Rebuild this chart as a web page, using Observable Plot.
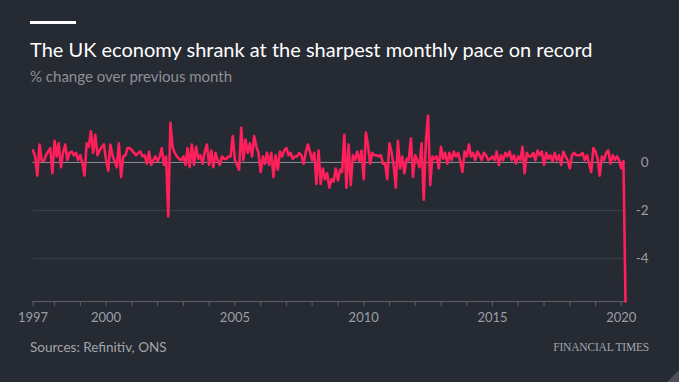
<!DOCTYPE html>
<html>
<head>
<meta charset="utf-8">
<script src="https://cdn.jsdelivr.net/npm/d3@7"></script>
<script src="https://cdn.jsdelivr.net/npm/@observablehq/plot@0.6"></script>
<style>
  html, body { margin: 0; padding: 0; background: #262a33; }
  #wrap { position: relative; width: 679px; height: 382px; background: #262a33; overflow: hidden; font-family: Lato, "Noto Sans", sans-serif; }
  #bar { position: absolute; left: 30px; top: 21px; width: 46px; height: 3px; background: #ffffff; }
  #title { position: absolute; left: 30px; top: 37px; font-size: 20px; color: #ffffff; white-space: nowrap; }
  #subtitle { position: absolute; left: 30px; top: 67px; font-size: 15px; color: #8e9096; white-space: nowrap; }
  #chart { position: absolute; left: 0; top: 90px; }
  #source { position: absolute; left: 30px; top: 339px; font-size: 13.5px; color: #a3a5aa; white-space: nowrap; }
  #ft { position: absolute; right: 30px; top: 341px; font-family: "Liberation Serif", "DejaVu Serif", serif; font-size: 11.5px; color: #a3a5aa; letter-spacing: -0.2px; white-space: nowrap; }
  #corner { position: absolute; right: 0; bottom: 0; }
</style>
</head>
<body>
<div id="wrap">
  <div id="bar"></div>
  <div id="title">The UK economy shrank at the sharpest monthly pace on record</div>
  <div id="subtitle">% change over previous month</div>
  <div id="chart"></div>
  <div id="source">Sources: Refinitiv, ONS</div>
  <div id="ft">FINANCIAL TIMES</div>
  <svg id="corner" width="12" height="12"><path d="M12,0 L12,12 L0,12 Z" fill="#4a4e57"/></svg>
</div>
<script>
// Monthly % change in UK GDP, starting March 1997, ending March 2020
const startMonth = "1997-03-01";
const values = [
  0.5, 0.25, -0.55, 0.75, 0.1, 0.05, 0.3, 0.45, 0.6, -0.45,
  0.9, 0.25, 0.8, -0.2, 0.4, 0.75, 0.1, 0.4, 0.45, 0.3,
  0.4, 0.1, 0.3, -0.05, -0.55, 0.8, 0.65, 1.3, 0.4, 1.15,
  0.3, 0.5, 0.65, 0.75, 0.1, -0.35, 0.75, 0.3, 0.05, -0.2,
  0.8, -0.6, 0.25, 0.3, 0.6,
  0.6, 0.5, 0.4, 0.3, 0.4, 0.45, 0.25, 0.3, -0.05, 0.45,
  -0.1, 0.1, 0.25, 0.05, 0.25, 0.6, -0.1, 0.25, -2.25, 1.65,
  0.65, 0.4, 0.25, 0.15, 0.1, 0.25, -0.1, 0.6, -0.2, 0.75,
  -0.1, 0.65, 0.15, 0.3, -0.05, 0.45, 0.75, -0.1, 0.5, -0.2,
  0.4, 0.1, -0.1, 0.25, 0.15, 0.15, 0.25,
  0.25, 1.1, 0.1, -0.1, -0.3, 1.45, 0.1, 0.95, 0.4, 0.8,
  0.25, 1.1, 0.65, 0.4, -0.4, 0.25, -0.05, 0.4, -0.1, 0.4,
  -0.6, 0.3, -0.3, 0.45, 0.25, 0.5, 0.6, 0.3, 0.4, 0.15,
  0.25, 0.25, 0.4, 0.3, -0.05, 0.4, 0.75, 0.45, 0.1, 0.4,
  -0.9, 0.5, -0.9, -0.25, -0.7, -0.45, -1.05,
  -0.7, -0.8, -0.25, -0.75, -0.3, -0.4, 1.15, -1.05, 0.75, -0.95,
  0.3, 0.1, 0.45, 0.05, 0.5, -0.7, 1.25, 0.75, -0.05, 0.4,
  0.3, 0.3, 0.25, 0.3, -0.05, -0.05, -0.7, 0.8, 0.4, -0.1,
  -1.05, 0.9, -0.25, 0.25, -0.45, 0.15, 0.1, 1.0, -0.6, 0.3,
  0.1, -0.2, 0.8, -1.55, 0.9, 1.95,
  -0.95, 0.25, 0.15, 0.25, -0.25, 0.65, 0.15, 0.4, -0.05, 0.4,
  0.1, 0.45, 0.25, 0.4, 0.05, -0.4, 0.45, 0.25, 0.75, 0.25,
  0.4, 0.1, 0.45, 0.3, 0.1, 0.4, 0.3, 0.1, 0.15, 0.25,
  0.1, 0.45, -0.1, 0.3, 0.1, 0.4, 0.25, 0.45, 0.1, 0.3,
  -0.05, 0.25, 0.1, 0.65, -0.45, 0.4, 0.25,
  0.25, 0.4, 0.1, 0.5, 0.3, 0.45, -0.1, 0.4, 0.15, 0.3,
  0.05, 0.4, 0.1, 0.3, -0.1, 0.45, 0.25, 0.1, -0.25, 0.3,
  0.4, 0.3, 0.3, 0.3, 0.4, 0.1, 0.3, -0.05, -0.4, 0.6,
  0.45, 0.15, -0.55, 0.25, 0.1, 0.4, 0.5, -0.05, 0.3, 0.1,
  0.25, 0.1, -0.25, 0.05, -5.8
];
const yTicks = [0, -2, -4];
const firstLabel = "1997";
const labelYears = [2000, 2005, 2010, 2015, 2020];
const tickYears = d3.range(1998, 2021);

const start = new Date(startMonth);
const data = values.map((v, i) => ({ date: d3.utcMonth.offset(start, i), value: v }));
const end = data[data.length - 1].date;
const yMin = d3.min(values);
const yMax = 2.0;

const xTicks = [start, ...tickYears.map(y => new Date(Date.UTC(y, 0, 1)))];
const fmtX = d => {
  if (+d === +start) return firstLabel;
  const y = d.getUTCFullYear();
  return labelYears.includes(y) ? String(y) : "";
};

const chart = Plot.plot({
  width: 679,
  height: 250,
  marginLeft: 32.5,
  marginRight: 54,
  marginTop: 24,
  marginBottom: 39,
  style: { background: "transparent", color: "#9b9ea5", fontFamily: "Lato, 'Noto Sans', sans-serif", fontSize: "13px", overflow: "visible" },
  x: { type: "utc", domain: [start, end] },
  y: { domain: [yMin, yMax] },
  marks: [
    Plot.ruleY(yTicks.filter(d => d !== 0), { stroke: "#3d414a", strokeWidth: 1 }),
    Plot.ruleY([0], { stroke: "#8c8f95", strokeWidth: 1 }),
    Plot.ruleY([yMin], { stroke: "#5d6068", strokeWidth: 1 }),
    Plot.axisX(xTicks, { anchor: "bottom", tickSize: 5, tickPadding: 6, tickFormat: fmtX, stroke: "#5d6068", fill: "#9b9ea5", fontSize: 13, label: null }),
    Plot.axisY({ ticks: [], label: null }),
    Plot.text(yTicks, { x: end, y: d => d, text: d => String(d).replace("\u2212", "-"), dx: 23, textAnchor: "end", fill: "#9b9ea5", fontSize: 13.5 }),
    Plot.line(data, { x: "date", y: "value", stroke: "#ff1f5b", strokeWidth: 2.6, strokeLinejoin: "round" })
  ]
});
document.getElementById("chart").appendChild(chart);
</script>
</body>
</html>
